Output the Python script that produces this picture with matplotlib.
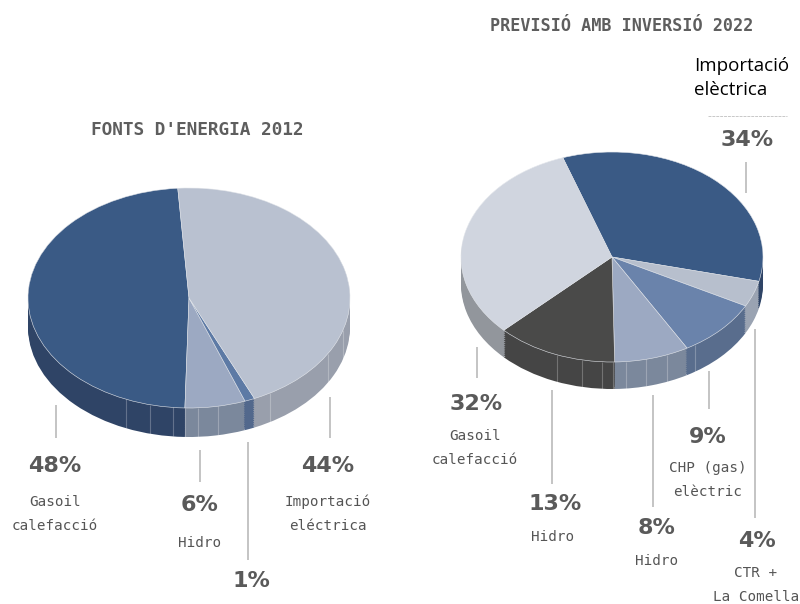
import numpy as np
import matplotlib
matplotlib.use("Agg")
import matplotlib.pyplot as plt

W, H = 800, 604

# values
vals_2012 = [48, 6, 1, 44]
top_2012 = ['#3a5a85', '#9ca9c2', '#5d7aa5', '#b9c1d0']
side_2012 = ['#2f4466', '#7b889c', '#52688c', '#999fac']
streaks_2012 = [126, 150, 173, 185, 198, 218, 270, 328, 343]

vals_2022 = [34, 4, 9, 8, 13, 32]
top_2022 = ['#3a5a85', '#b7bfcd', '#6a83ab', '#9ca9c2', '#4a4a49', '#d0d5df']
side_2022 = ['#2f4466', '#9aa3b2', '#596d8d', '#7b889c', '#454545', '#92969c']
streaks_2022 = [557, 582, 602, 613, 626, 646, 667, 695]

fig = plt.figure(figsize=(W / 100, H / 100), dpi=100, facecolor='white')


def pie3d(cx, cy, rx, ry, depth, vals, top, side, start, counterclock):
    # axes box covers the ellipse plus the rim, one data unit = one radius
    d = depth / ry
    ax = fig.add_axes([(cx - rx) / W, 1 - (cy + ry + depth) / H, 2 * rx / W, (2 * ry + depth) / H])
    for off in np.arange(d, 0, -0.02):
        ax.pie(vals, colors=side, startangle=start, counterclock=counterclock,
               center=(0, -off), radius=1, wedgeprops={'linewidth': 0})
    ax.pie(vals, colors=top, startangle=start, counterclock=counterclock,
           center=(0, 0), radius=1, wedgeprops={'linewidth': 0.4, 'edgecolor': '#e4e7ec'})
    ax.set_aspect('auto')
    ax.set_xlim(-1, 1)
    ax.set_ylim(-1 - d, 1)
    ax.axis('off')
    return ax


pie3d(189, 298, 161, 110, 29, vals_2012, top_2012, side_2012, 94, True)
pie3d(612, 257, 151, 105, 27, vals_2022, top_2022, side_2022, 109, False)

# overlay in pixel coordinates for labels and leader lines
ov = fig.add_axes([0, 0, 1, 1], facecolor='none')
ov.set_xlim(0, W)
ov.set_ylim(H, 0)
ov.axis('off')


def rim_streaks(xs, cx, cy, rx, ry, depth):
    for x in xs:
        y = cy + ry * np.sqrt(1 - ((x - cx) / rx) ** 2)
        ov.plot([x, x], [y, y + depth], color='white', alpha=0.25, lw=0.8, solid_capstyle='butt')


rim_streaks(streaks_2012, 189, 298, 161, 110, 29)
rim_streaks(streaks_2022, 612, 257, 151, 105, 27)

title_kw = dict(family='DejaVu Sans Mono', weight='bold', color='#5e5e5e', ha='center', va='center')
ov.text(197, 130, "FONTS D'ENERGIA 2012", fontsize=12.8, **title_kw)
ov.text(622, 26, "PREVISIÓ AMB INVERSIÓ 2022", fontsize=12.1, **title_kw)

pct_kw = dict(family='DejaVu Sans', weight='bold', fontsize=16, color='#5a5a5a',
              ha='center', va='center')
lab_kw = dict(family='DejaVu Sans Mono', fontsize=10.3, color='#555555', ha='center',
              va='center', linespacing=1.9)

pcts = [('48%', 55, 466), ('6%', 200, 505), ('1%', 251, 581), ('44%', 328, 466),
        ('34%', 747, 140), ('32%', 476, 404), ('13%', 555, 504), ('8%', 657, 528),
        ('9%', 708, 437), ('4%', 757, 541)]
for s, x, y in pcts:
    ov.text(x, y, s, **pct_kw)

labels = [('Gasoil\ncalefacció', 55, 514), ('Hidro', 200, 543), ('Importació\neléctrica', 328, 514),
          ('Gasoil\ncalefacció', 475, 448), ('Hidro', 553, 537), ('Hidro', 657, 561),
          ('CHP (gas)\nelèctric', 708, 480), ('CTR +\nLa Comella', 756, 585)]
for s, x, y in labels:
    ov.text(x, y, s, **lab_kw)

leaders = [(56, 405, 438), (200, 450, 482), (248, 442, 560), (330, 397, 438),
           (746, 162, 193), (477, 347, 378), (552, 390, 484), (653, 395, 507),
           (709, 371, 409), (755, 329, 518)]
for x, y0, y1 in leaders:
    ov.plot([x, x], [y0, y1], color='#c4c4c4', lw=1.4, solid_capstyle='butt')

ov.plot([708, 787], [116, 116], color='#c8c8c8', lw=0.7, ls=(0, (3, 1)))
ov.text(694, 78, "Importació\nelèctrica", family='Open Sans', fontsize=13.5, color='black',
        ha='left', va='center', linespacing=1.45)

fig.savefig('out.png', dpi=100)
